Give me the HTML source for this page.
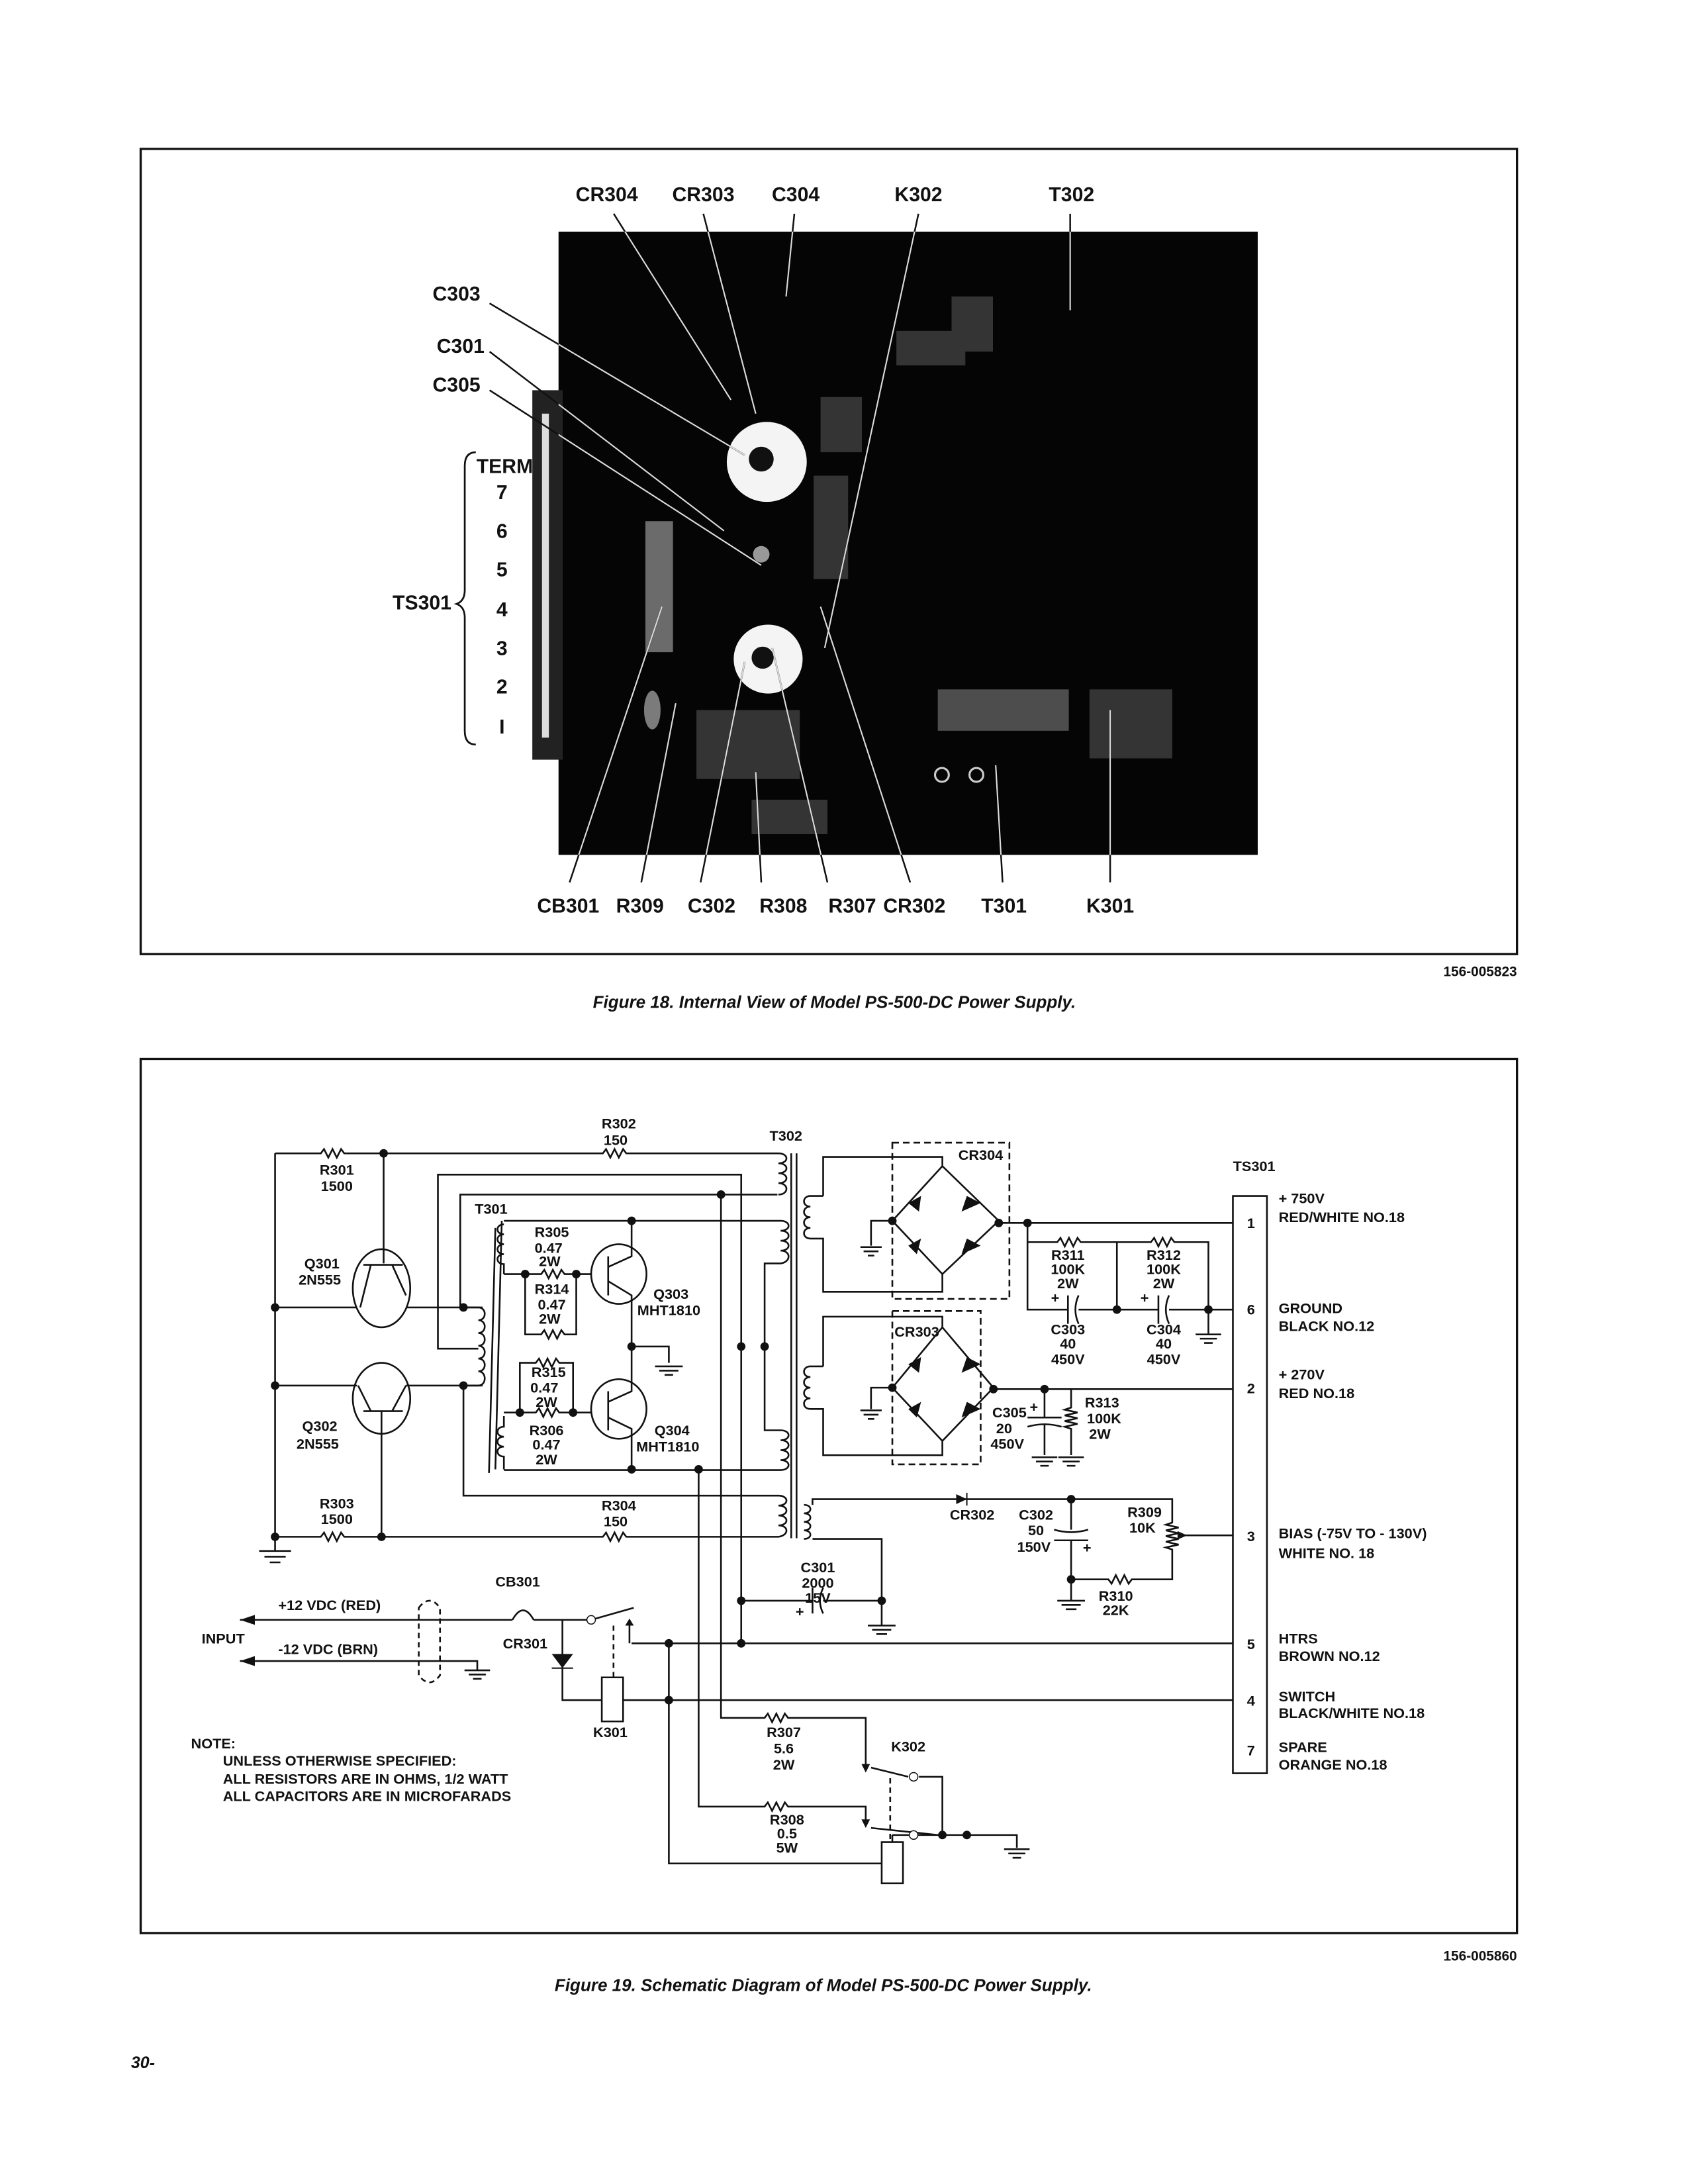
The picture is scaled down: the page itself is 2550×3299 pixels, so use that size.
<!DOCTYPE html>
<html><head><meta charset="utf-8"><style>
html,body{margin:0;padding:0;background:#fff}
svg{display:block}
text{font-family:"Liberation Sans",sans-serif;font-weight:bold;fill:#111}
</style></head><body>
<svg width="2550" height="3299" viewBox="0 0 1224 1584" preserveAspectRatio="none" xmlns="http://www.w3.org/2000/svg">
<defs><clipPath id="ph"><rect x="405" y="168" width="507" height="452"/></clipPath></defs>
<!-- Figure 18 -->
<rect x="102" y="108" width="998" height="584" fill="none" stroke="#111" stroke-width="1.6"/>
<rect x="405" y="168" width="507" height="452" fill="#050505"/>
<g fill="#3a3a3a" opacity="0.9">
<rect x="468" y="378" width="20" height="95" fill="#777"/>
<rect x="595" y="288" width="30" height="40"/>
<rect x="590" y="345" width="25" height="75"/>
<rect x="680" y="500" width="95" height="30" fill="#555"/>
<rect x="505" y="515" width="75" height="50"/>
<rect x="545" y="580" width="55" height="25"/>
<rect x="790" y="500" width="60" height="50"/>
<ellipse cx="473" cy="515" rx="6" ry="14" fill="#888"/>
<rect x="690" y="215" width="30" height="40"/>
<rect x="650" y="240" width="50" height="25"/>
</g>
<rect x="386" y="283" width="22" height="268" fill="#222"/>
<rect x="393" y="300" width="5" height="235" fill="#ddd"/>
<circle cx="556" cy="335" r="29" fill="#f4f4f4"/><circle cx="552" cy="333" r="9" fill="#111"/>
<circle cx="557" cy="478" r="25" fill="#f4f4f4"/><circle cx="553" cy="477" r="8" fill="#111"/>
<circle cx="552" cy="402" r="6" fill="#999"/>
<circle cx="683" cy="562" r="5" fill="none" stroke="#ccc" stroke-width="1.5"/><circle cx="708" cy="562" r="5" fill="none" stroke="#ccc" stroke-width="1.5"/>
<g id="leads" fill="none" stroke-width="1">
<path d="M445 155L530 290M510 155L548 300M576 155L570 215M666 155L598 470M776 155L776 225M355 220L540 330M355 255L525 385M355 283L552 410M413 640L480 440M465 640L490 510M508 640L540 480M552 640L548 560M600 640L560 470M660 640L595 440M727 640L722 555M805 640L805 515"/>
</g>
<g stroke="#111" fill="none" stroke-width="1.2"><path d="M445 155L530 290M510 155L548 300M576 155L570 215M666 155L598 470M776 155L776 225M355 220L540 330M355 255L525 385M355 283L552 410M413 640L480 440M465 640L490 510M508 640L540 480M552 640L548 560M600 640L560 470M660 640L595 440M727 640L722 555M805 640L805 515"/></g>
<g clip-path="url(#ph)" stroke="#ddd" fill="none" stroke-width="1"><path d="M445 155L530 290M510 155L548 300M576 155L570 215M666 155L598 470M776 155L776 225M355 220L540 330M355 255L525 385M355 283L552 410M413 640L480 440M465 640L490 510M508 640L540 480M552 640L548 560M600 640L560 470M660 640L595 440M727 640L722 555M805 640L805 515"/></g>
<g font-size="14.5" text-anchor="middle">
<text x="440" y="146">CR304</text><text x="510" y="146">CR303</text><text x="577" y="146">C304</text><text x="666" y="146">K302</text><text x="777" y="146">T302</text>
<text x="331" y="218">C303</text><text x="334" y="256">C301</text><text x="331" y="284">C305</text>
<text x="412" y="662">CB301</text><text x="464" y="662">R309</text><text x="516" y="662">C302</text><text x="568" y="662">R308</text><text x="618" y="662">R307</text><text x="663" y="662">CR302</text><text x="728" y="662">T301</text><text x="805" y="662">K301</text>
<text x="366" y="343">TERM</text><text x="364" y="362">7</text><text x="364" y="390">6</text><text x="364" y="418">5</text><text x="364" y="447">4</text><text x="364" y="475">3</text><text x="364" y="503">2</text><text x="364" y="532">I</text>
<text x="306" y="442">TS301</text>
</g>
<path d="M345 328Q337 328 337 338L337 428Q337 436 331 438Q337 440 337 448L337 530Q337 540 345 540" fill="none" stroke="#111" stroke-width="1.3"/>
<text x="1100" y="708" font-size="10" text-anchor="end" font-weight="normal">156-005823</text>
<text x="605" y="731" font-size="12.5" text-anchor="middle" font-style="italic">Figure 18.  Internal View of Model PS-500-DC Power Supply.</text>

<!-- Figure 19 -->
<rect x="102" y="768" width="998" height="634" fill="none" stroke="#111" stroke-width="1.6"/>
<text x="1100" y="1422" font-size="10" text-anchor="end" font-weight="normal">156-005860</text>
<text x="597" y="1444" font-size="12.5" text-anchor="middle" font-style="italic">Figure 19.  Schematic Diagram of Model PS-500-DC Power Supply.</text>
<text x="95" y="1500" font-size="12" font-style="italic">30-</text>

<g transform="matrix(0.7717 0 0 0.515 2.68 712.9)">
<g fill="none" stroke="#111" stroke-width="2.6" vector-effect="non-scaling-stroke">
<!-- left block -->
<path vector-effect="non-scaling-stroke" d="M255 240H298l3-6 4 12 4-12 4 12 4-12 3 6H563l3-6 4 12 4-12 4 12 4-12 3 6H728"/>
<path vector-effect="non-scaling-stroke" d="M255 240V800M255 780H298l3-6 4 12 4-12 4 12 4-12 3 6H563l3-6 4 12 4-12 4 12 4-12 3 6H728"/>
<path vector-effect="non-scaling-stroke" d="M240 800H270M245 808H265M250 816H260"/>
<ellipse vector-effect="non-scaling-stroke" cx="355" cy="430" rx="27" ry="55"/>
<ellipse vector-effect="non-scaling-stroke" cx="355" cy="585" rx="27" ry="50"/>
<path vector-effect="non-scaling-stroke" d="M357 240V395M338 397H375M345 397L335 457M365 397L378 440M255 457H332M378 457H450"/>
<path vector-effect="non-scaling-stroke" d="M255 567H332M378 567H450M338 603H375M345 603L333 567M365 603L378 567M355 603V780"/>
<path vector-effect="non-scaling-stroke" d="M432 457h14c8 0 8 18 0 18c8 0 8 18 0 18c8 0 8 18 0 18M446 511c8 0 8 18 0 18c8 0 8 18 0 18c8 0 8 20 0 20H432"/>
<path vector-effect="non-scaling-stroke" d="M446 515H408V270H693V930M429 457V298H727M674 298V1035H715l3-6 4 12 4-12 4 12 4-12 3 6H810V1105M653 685V1160H715l3-6 4 12 4-12 4 12 4-12 3 6H810V1185"/>
<path vector-effect="non-scaling-stroke" d="M728 240c10 0 10 14 0 14c10 0 10 14 0 14c10 0 10 14 0 14c10 0 10 16 0 16"/>
<path vector-effect="non-scaling-stroke" d="M740 240V782M745 240V782M462 345L456 690M468 335L462 685"/>
<!-- Q303/Q304 -->
<path vector-effect="non-scaling-stroke" d="M470 335H730c10 0 10 14 0 14c10 0 10 14 0 14c10 0 10 14 0 14c10 0 10 16 0 18H715V630H730c10 0 10 14 0 14c10 0 10 14 0 14c10 0 10 14 0 14c10 0 10 14 0 14H470"/>
<path vector-effect="non-scaling-stroke" d="M470 340c-8 0-8 14 0 14c-8 0-8 14 0 14c-8 0-8 14 0 14c-8 0-8 14 0 14V410M470 610V625c-8 0-8 14 0 14c-8 0-8 14 0 14c-8 0-8 14 0 14V685"/>
<ellipse vector-effect="non-scaling-stroke" cx="578" cy="410" rx="26" ry="42"/>
<ellipse vector-effect="non-scaling-stroke" cx="578" cy="600" rx="26" ry="42"/>
<path vector-effect="non-scaling-stroke" d="M590 335V385L568 400M568 385V440M568 420L590 440V512M590 512H625V535M612 540H638M616 546H634M621 552H629"/>
<path vector-effect="non-scaling-stroke" d="M590 512V575L568 590M568 575V630M568 612L590 628V685"/>
<path vector-effect="non-scaling-stroke" d="M470 410H505l3-6 4 12 4-12 4 12 4-12 3 6H552M490 410V495H505l3-6 4 12 4-12 4 12 4-12 3 6H538V410"/>
<path vector-effect="non-scaling-stroke" d="M470 605H500l3-6 4 12 4-12 4 12 4-12 3 6H552M485 605V535H500l3-6 4 12 4-12 4 12 4-12 3 6H535V605"/>
<path vector-effect="non-scaling-stroke" d="M432 567V722H728c10 0 10 14 0 14c10 0 10 14 0 14c10 0 10 14 0 14c10 0 10 14 0 16"/>
<!-- T302 secondaries -->
<path vector-effect="non-scaling-stroke" d="M770 300V245H882V258M770 300H758c-8 0-8 15 0 15c-8 0-8 15 0 15c-8 0-8 15 0 15c-8 0-8 15 0 15H770V435H882V410"/>
<path vector-effect="non-scaling-stroke" d="M882 258L835 335L882 410L935 335Z M835 335H815V370M805 372H825M808 378H822M812 384H818"/>
<path vector-effect="non-scaling-stroke" d="M770 540V470H882V485M770 540H758c-8 0-8 15 0 15c-8 0-8 15 0 15c-8 0-8 15 0 15c-8 0-8 15 0 15H770V665H882V645"/>
<path vector-effect="non-scaling-stroke" d="M882 485L835 570L882 645L930 570Z M835 570H815V600M805 602H825M808 608H822M812 614H818"/>
<path vector-effect="non-scaling-stroke" stroke-dasharray="10 6" d="M835 225H945V445H835ZM835 462H918V678H835Z"/>
<path vector-effect="non-scaling-stroke" d="M935 338H1155M962 338V460H1000M1010 460H1085M1095 460H1155M962 365H990l3-6 4 12 4-12 4 12 4-12 3 6H1046V460M1046 365H1078l3-6 4 12 4-12 4 12 4-12 3 6H1132V495M1120 495H1144M1124 501H1140M1128 507H1136"/>
<path vector-effect="non-scaling-stroke" d="M1000 440V480M1010 440Q1004 460 1010 480M1085 440V480M1095 440Q1089 460 1095 480"/>
<path vector-effect="non-scaling-stroke" d="M930 572H1155M978 572V612M962 612H994M962 625Q978 618 994 625M978 622V665M1003 572V598l-6 3 12 4-12 4 12 4-12 4 12 4-12 4 6 3V665M966 668H990M970 674H986M974 680H982M991 668H1015M995 674H1011M999 680H1007"/>
<!-- bias -->
<path vector-effect="non-scaling-stroke" d="M752 735c8 0 8 12 0 12c8 0 8 12 0 12c8 0 8 12 0 12c8 0 8 12 0 12M760 735V727H1098V760l-6 3 12 4-12 4 12 4-12 4 12 4-12 4 12 4-12 4 6 3V840H1060l-3 6-4-12-4 12-4-12-4 12-3-6H1003V870M1003 727V770M987 770Q1003 777 1019 770M987 785H1019M1003 785V840M990 870H1016M994 876H1012M998 882H1008"/>
<path vector-effect="non-scaling-stroke" d="M760 783H825V905M812 905H838M816 911H834M820 917H830M693 870H760M770 870H825M760 852V888M770 852Q764 870 770 888"/>
<path vector-effect="non-scaling-stroke" d="M1155 778H1106"/>
<!-- input -->
<path vector-effect="non-scaling-stroke" d="M222 897H478M498 897H552L592 880M588 930V905M590 930H1155M222 955H445V968M433 968H457M437 974H453M441 980H449"/>
<path vector-effect="non-scaling-stroke" d="M478 897Q488 870 498 897"/>
<path vector-effect="non-scaling-stroke" stroke-dasharray="8 6" d="M390 880Q400 860 410 880V975Q400 995 390 975Z"/>
<path vector-effect="non-scaling-stroke" d="M525 897V1010H562M582 1010H1155M625 930V1240H825"/>
<rect vector-effect="non-scaling-stroke" x="562" y="978" width="20" height="62"/>
<path vector-effect="non-scaling-stroke" stroke-dasharray="8 6" d="M573 905V978M833 1120V1210"/>
<!-- K302 -->
<path vector-effect="non-scaling-stroke" d="M815 1105L850 1118M860 1118H882V1200M815 1190L878 1200M835 1200H952V1218M940 1220H964M944 1226H960M948 1232H956M835 1200V1210"/>
<rect vector-effect="non-scaling-stroke" x="825" y="1210" width="20" height="58"/>
<rect vector-effect="non-scaling-stroke" x="1155" y="300" width="32" height="813"/>
</g>
<g fill="#111">
<path d="M515 945H535L525 965ZM895 720V734L905 727Z M850 310L862 300L860 322Z M905 300L918 310L900 322Z M850 370L862 360L858 382Z M905 360L918 370L900 382Z M850 537L862 527L860 549Z M905 527L918 537L900 549Z M850 600L862 590L858 612Z M905 590L918 600L900 612Z"/>
<path d="M515 965H535" stroke="#111" stroke-width="2" vector-effect="non-scaling-stroke"/>
<path d="M905 718V736" stroke="#111" stroke-width="2" vector-effect="non-scaling-stroke"/>
<path d="M236 890L222 897L236 904ZM236 948L222 955L236 962ZM1103 772L1112 778L1103 784Z M584 905L588 895L592 905Z M806 1100L810 1112L814 1100Z M806 1178L810 1190L814 1178Z"/>
<g>
<ellipse cx="357" cy="240" rx="4" ry="6"/><ellipse cx="255" cy="457" rx="4" ry="6"/><ellipse cx="255" cy="567" rx="4" ry="6"/><ellipse cx="255" cy="780" rx="4" ry="6"/><ellipse cx="355" cy="780" rx="4" ry="6"/>
<ellipse cx="432" cy="457" rx="4" ry="6"/><ellipse cx="432" cy="567" rx="4" ry="6"/><ellipse cx="674" cy="298" rx="4" ry="6"/><ellipse cx="590" cy="335" rx="4" ry="6"/><ellipse cx="590" cy="512" rx="4" ry="6"/><ellipse cx="590" cy="685" rx="4" ry="6"/><ellipse cx="653" cy="685" rx="4" ry="6"/>
<ellipse cx="693" cy="512" rx="4" ry="6"/><ellipse cx="715" cy="512" rx="4" ry="6"/><ellipse cx="490" cy="410" rx="4" ry="6"/><ellipse cx="538" cy="410" rx="4" ry="6"/><ellipse cx="485" cy="605" rx="4" ry="6"/><ellipse cx="535" cy="605" rx="4" ry="6"/>
<ellipse cx="835" cy="335" rx="4" ry="6"/><ellipse cx="935" cy="338" rx="4" ry="6"/><ellipse cx="962" cy="338" rx="4" ry="6"/><ellipse cx="1046" cy="460" rx="4" ry="6"/><ellipse cx="1132" cy="460" rx="4" ry="6"/>
<ellipse cx="835" cy="570" rx="4" ry="6"/><ellipse cx="930" cy="572" rx="4" ry="6"/><ellipse cx="978" cy="572" rx="4" ry="6"/><ellipse cx="1003" cy="727" rx="4" ry="6"/>
<ellipse cx="693" cy="870" rx="4" ry="6"/><ellipse cx="825" cy="870" rx="4" ry="6"/><ellipse cx="625" cy="930" rx="4" ry="6"/><ellipse cx="693" cy="930" rx="4" ry="6"/><ellipse cx="625" cy="1010" rx="4" ry="6"/><ellipse cx="1003" cy="840" rx="4" ry="6"/>
<ellipse cx="882" cy="1200" rx="4" ry="6"/><ellipse cx="905" cy="1200" rx="4" ry="6"/>
</g>
</g>
<ellipse cx="552" cy="897" rx="4" ry="6" fill="#fff" stroke="#111" stroke-width="1.5" vector-effect="non-scaling-stroke"/>
<ellipse cx="855" cy="1118" rx="4" ry="6" fill="#fff" stroke="#111" stroke-width="1.5" vector-effect="non-scaling-stroke"/>
<ellipse cx="855" cy="1200" rx="4" ry="6" fill="#fff" stroke="#111" stroke-width="1.5" vector-effect="non-scaling-stroke"/>

<g font-size="13.5" text-anchor="middle">
<text transform="translate(578,205) scale(1,1.4985)">R302</text><text transform="translate(575,228) scale(1,1.4985)">150</text>
<text transform="translate(735,222) scale(1,1.4985)">T302</text>
<text transform="translate(313,270) scale(1,1.4985)">R301</text><text transform="translate(313,293) scale(1,1.4985)">1500</text>
<text transform="translate(458,325) scale(1,1.4985)">T301</text>
<text transform="translate(515,358) scale(1,1.4985)">R305</text><text transform="translate(512,380) scale(1,1.4985)">0.47</text><text transform="translate(513,399) scale(1,1.4985)">2W</text>
<text transform="translate(515,438) scale(1,1.4985)">R314</text><text transform="translate(515,460) scale(1,1.4985)">0.47</text><text transform="translate(513,480) scale(1,1.4985)">2W</text>
<text transform="translate(299,402) scale(1,1.4985)">Q301</text><text transform="translate(297,425) scale(1,1.4985)">2N555</text>
<text transform="translate(627,445) scale(1,1.4985)">Q303</text><text transform="translate(625,468) scale(1,1.4985)">MHT1810</text>
<text transform="translate(512,555) scale(1,1.4985)">R315</text><text transform="translate(508,577) scale(1,1.4985)">0.47</text><text transform="translate(510,597) scale(1,1.4985)">2W</text>
<text transform="translate(510,637) scale(1,1.4985)">R306</text><text transform="translate(510,657) scale(1,1.4985)">0.47</text><text transform="translate(510,678) scale(1,1.4985)">2W</text>
<text transform="translate(297,631) scale(1,1.4985)">Q302</text><text transform="translate(295,656) scale(1,1.4985)">2N555</text>
<text transform="translate(628,637) scale(1,1.4985)">Q304</text><text transform="translate(624,660) scale(1,1.4985)">MHT1810</text>
<text transform="translate(313,740) scale(1,1.4985)">R303</text><text transform="translate(313,762) scale(1,1.4985)">1500</text>
<text transform="translate(578,743) scale(1,1.4985)">R304</text><text transform="translate(575,765) scale(1,1.4985)">150</text>
<text transform="translate(918,249) scale(1,1.4985)">CR304</text><text transform="translate(858,498) scale(1,1.4985)">CR303</text>
<text transform="translate(1175,265) scale(1,1.4985)">TS301</text>
<text transform="translate(1000,390) scale(1,1.4985)">R311</text><text transform="translate(1000,410) scale(1,1.4985)">100K</text><text transform="translate(1000,430) scale(1,1.4985)">2W</text>
<text transform="translate(1090,390) scale(1,1.4985)">R312</text><text transform="translate(1090,410) scale(1,1.4985)">100K</text><text transform="translate(1090,430) scale(1,1.4985)">2W</text>
<text transform="translate(988,450) scale(1,1.4985)">+</text><text transform="translate(1072,450) scale(1,1.4985)">+</text>
<text transform="translate(1000,495) scale(1,1.4985)">C303</text><text transform="translate(1000,515) scale(1,1.4985)">40</text><text transform="translate(1000,537) scale(1,1.4985)">450V</text>
<text transform="translate(1090,495) scale(1,1.4985)">C304</text><text transform="translate(1090,515) scale(1,1.4985)">40</text><text transform="translate(1090,537) scale(1,1.4985)">450V</text>
<text transform="translate(945,612) scale(1,1.4985)">C305</text><text transform="translate(940,634) scale(1,1.4985)">20</text><text transform="translate(943,656) scale(1,1.4985)">450V</text><text transform="translate(968,604) scale(1,1.4985)">+</text>
<text transform="translate(1032,598) scale(1,1.4985)">R313</text><text transform="translate(1034,620) scale(1,1.4985)">100K</text><text transform="translate(1030,642) scale(1,1.4985)">2W</text>
<text transform="translate(910,756) scale(1,1.4985)">CR302</text>
<text transform="translate(970,756) scale(1,1.4985)">C302</text><text transform="translate(970,778) scale(1,1.4985)">50</text><text transform="translate(968,801) scale(1,1.4985)">150V</text><text transform="translate(1018,802) scale(1,1.4985)">+</text>
<text transform="translate(1072,752) scale(1,1.4985)">R309</text><text transform="translate(1070,774) scale(1,1.4985)">10K</text>
<text transform="translate(765,830) scale(1,1.4985)">C301</text><text transform="translate(765,852) scale(1,1.4985)">2000</text><text transform="translate(765,873) scale(1,1.4985)">15V</text><text transform="translate(748,892) scale(1,1.4985)">+</text>
<text transform="translate(1045,870) scale(1,1.4985)">R310</text><text transform="translate(1045,890) scale(1,1.4985)">22K</text>
<text transform="translate(483,850) scale(1,1.4985)">CB301</text>
<text transform="translate(490,937) scale(1,1.4985)">CR301</text>
<text transform="translate(570,1062) scale(1,1.4985)">K301</text>
<text transform="translate(733,1062) scale(1,1.4985)">R307</text><text transform="translate(733,1085) scale(1,1.4985)">5.6</text><text transform="translate(733,1108) scale(1,1.4985)">2W</text>
<text transform="translate(850,1082) scale(1,1.4985)">K302</text>
<text transform="translate(736,1185) scale(1,1.4985)">R308</text><text transform="translate(736,1205) scale(1,1.4985)">0.5</text><text transform="translate(736,1225) scale(1,1.4985)">5W</text>
<text transform="translate(1172,345) scale(1,1.4985)">1</text><text transform="translate(1172,467) scale(1,1.4985)">6</text><text transform="translate(1172,578) scale(1,1.4985)">2</text><text transform="translate(1172,786) scale(1,1.4985)">3</text><text transform="translate(1172,938) scale(1,1.4985)">5</text><text transform="translate(1172,1018) scale(1,1.4985)">4</text><text transform="translate(1172,1088) scale(1,1.4985)">7</text>
</g>
<g font-size="13.5">
<text transform="translate(1198,310) scale(1,1.4985)">+ 750V</text><text transform="translate(1198,337) scale(1,1.4985)">RED/WHITE NO.18</text>
<text transform="translate(1198,465) scale(1,1.4985)">GROUND</text><text transform="translate(1198,490) scale(1,1.4985)">BLACK NO.12</text>
<text transform="translate(1198,558) scale(1,1.4985)">+ 270V</text><text transform="translate(1198,585) scale(1,1.4985)">RED NO.18</text>
<text transform="translate(1198,782) scale(1,1.4985)">BIAS (-75V TO - 130V)</text><text transform="translate(1198,810) scale(1,1.4985)">WHITE NO. 18</text>
<text transform="translate(1198,930) scale(1,1.4985)">HTRS</text><text transform="translate(1198,955) scale(1,1.4985)">BROWN NO.12</text>
<text transform="translate(1198,1012) scale(1,1.4985)">SWITCH</text><text transform="translate(1198,1035) scale(1,1.4985)">BLACK/WHITE NO.18</text>
<text transform="translate(1198,1083) scale(1,1.4985)">SPARE</text><text transform="translate(1198,1108) scale(1,1.4985)">ORANGE NO.18</text>
<text transform="translate(258,883) scale(1,1.4985)">+12 VDC (RED)</text>
<text transform="translate(186,930) scale(1,1.4985)">INPUT</text>
<text transform="translate(258,945) scale(1,1.4985)">-12 VDC (BRN)</text>
<text transform="translate(176,1078) scale(1,1.4985)">NOTE:</text>
<text transform="translate(206,1102) scale(1,1.4985)">UNLESS OTHERWISE SPECIFIED:</text>
<text transform="translate(206,1128) scale(1,1.4985)">ALL RESISTORS ARE IN OHMS, 1/2 WATT</text>
<text transform="translate(206,1152) scale(1,1.4985)">ALL CAPACITORS ARE IN MICROFARADS</text>
</g>
</g>
</svg>
</body></html>
